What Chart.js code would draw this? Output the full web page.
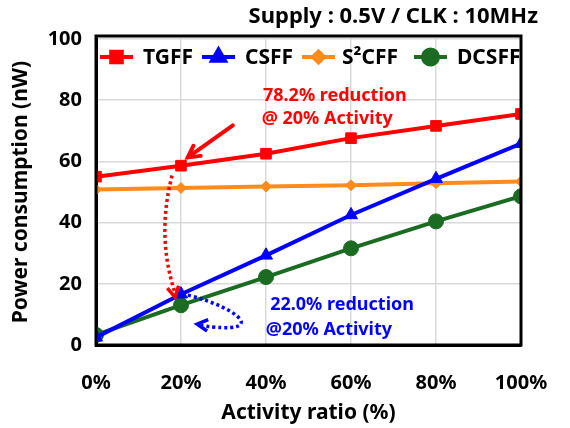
<!DOCTYPE html>
<html>
<head>
<meta charset="utf-8">
<script src="https://cdn.jsdelivr.net/npm/chart.js@4.4.1/dist/chart.umd.min.js"></script>
<style>
  html, body { margin: 0; padding: 0; background: #fff; }
  #wrap { width: 570px; height: 428px; }
</style>
</head>
<body>
<div id="wrap"><canvas id="c" width="570" height="428"></canvas></div>
<script>
const FONT = '"Noto Sans", "DejaVu Sans", sans-serif';

// Data.
const activity = [0, 20, 40, 60, 80, 100];
const tgff  = [55.0, 58.6, 62.5, 67.6, 71.6, 75.5];
const csff  = [2.5, 16.6, 29.3, 42.5, 54.3, 65.8];
const s2cff = [50.8, 51.3, 51.8, 52.2, 52.9, 53.4];
const dcsff = [3.3, 13.0, 22.2, 31.6, 40.4, 48.6];
const yTicks = [0, 20, 40, 60, 80, 100];

const series = [
  { label: 'TGFF',  data: tgff,  color: '#FF0000', style: 'rect',     r: 7.5 },
  { label: 'CSFF',  data: csff,  color: '#0000FF', style: 'triangle', r: 7.5 },
  { label: 'S²CFF', data: s2cff, color: '#FF8C1A', style: 'rectRot',  r: 5.5 },
  { label: 'DCSFF', data: dcsff, color: '#1B6B23', style: 'circle',   r: 7.5 },
];

// Annotation anchors in data coordinates (x = activity %, y = nW).
const redNote  = { lines: ['78.2% reduction', '@ 20% Activity'], x: [56.2, 54.4], y: [81.4, 73.9] };
const blueNote = { lines: ['22.0% reduction', '@20% Activity'], x: [57.9, 54.8], y: [13.0, 4.9] };

function arrowHead(ctx, x, y, ang, len) {
  ctx.beginPath();
  ctx.moveTo(x + len * Math.cos(ang + 0.5), y + len * Math.sin(ang + 0.5));
  ctx.lineTo(x, y);
  ctx.lineTo(x + len * Math.cos(ang - 0.5), y + len * Math.sin(ang - 0.5));
  ctx.stroke();
}

const decor = {
  id: 'decor',
  afterDatasetsDraw(chart) {
    const { ctx, chartArea: a, scales: { x, y } } = chart;
    const px = v => x.getPixelForValue(v), py = v => y.getPixelForValue(v);
    ctx.save();

    // frame
    ctx.strokeStyle = '#000'; ctx.lineWidth = 3;
    ctx.strokeRect(a.left, a.top - 3, a.right - a.left, a.bottom - a.top + 3);

    // legend inside plot
    ctx.save();
    ctx.beginPath(); ctx.rect(a.left, a.top - 3, a.right - a.left - 1, a.bottom - a.top); ctx.clip();
    const lx = [100, 202, 302, 414];
    const ly = 57;
    ctx.font = 'bold 21px ' + FONT; ctx.textBaseline = 'middle'; ctx.textAlign = 'left';
    series.forEach((s, i) => {
      ctx.strokeStyle = s.color; ctx.fillStyle = s.color; ctx.lineWidth = 4;
      ctx.beginPath(); ctx.moveTo(lx[i], ly); ctx.lineTo(lx[i] + 33, ly); ctx.stroke();
      Chart.helpers.drawPoint(ctx, { pointStyle: s.style, radius: s.r, borderWidth: 1 }, lx[i] + 16.5, ly);
      ctx.fillStyle = '#000';
      ctx.fillText(s.label, lx[i] + (i === 2 ? 40 : 43), ly + 1);
    });
    ctx.restore();

    // annotation text
    ctx.font = 'bold 18px ' + FONT; ctx.textAlign = 'center'; ctx.textBaseline = 'middle';
    ctx.fillStyle = '#FF0000';
    redNote.lines.forEach((t, i) => ctx.fillText(t, px(redNote.x[i]), py(redNote.y[i])));
    ctx.fillStyle = '#0000FF';
    blueNote.lines.forEach((t, i) => ctx.fillText(t, px(blueNote.x[i]), py(blueNote.y[i])));

    // red solid arrow
    ctx.strokeStyle = '#FF0000'; ctx.lineWidth = 4; ctx.lineCap = 'round';
    let sx = px(32.2), sy = py(71.8), ex = px(21.6), ey = py(61.3);
    ctx.beginPath(); ctx.moveTo(sx, sy); ctx.lineTo(ex, ey); ctx.stroke();
    arrowHead(ctx, ex, ey, Math.atan2(sy - ey, sx - ex), 13);

    // red dotted curved arrow
    ctx.lineCap = 'butt'; ctx.setLineDash([3, 3]); ctx.lineWidth = 3.5;
    ctx.beginPath(); ctx.moveTo(px(17.9), py(55.4));
    ctx.quadraticCurveTo(px(14.2), py(35.5), px(18.6), py(17)); ctx.stroke();
    ctx.setLineDash([]);
    arrowHead(ctx, px(18.6), py(15.6), -Math.PI / 2 - 0.2, 12);

    // blue dotted curved arrow
    ctx.strokeStyle = '#0000FF'; ctx.setLineDash([3, 3]); ctx.lineWidth = 3.5;
    ctx.beginPath(); ctx.moveTo(px(21.6), py(16.3));
    ctx.bezierCurveTo(px(34), py(12), px(41), py(3), px(24.5), py(6.4)); ctx.stroke();
    ctx.setLineDash([]);
    arrowHead(ctx, px(23.8), py(6.8), 0.1, 12);

    // header
    ctx.fillStyle = '#000'; ctx.font = 'bold 22px ' + FONT; ctx.textAlign = 'right';
    ctx.fillText('Supply : 0.5V / CLK : 10MHz', 538, 17);
    ctx.restore();
  }
};

new Chart(document.getElementById('c'), {
  type: 'line',
  data: {
    datasets: series.map(s => ({
      label: s.label,
      data: activity.map((a, i) => ({ x: a, y: s.data[i] })),
      borderColor: s.color, backgroundColor: s.color,
      borderWidth: 4, pointStyle: s.style, pointRadius: s.r, pointBorderWidth: 1,
      tension: 0,
    })),
  },
  options: {
    responsive: false, animation: false,
    layout: { padding: { top: 39, right: 49, left: 0, bottom: 0 } },
    plugins: { legend: { display: false }, tooltip: { enabled: false } },
    scales: {
      x: {
        type: 'linear', min: 0, max: 100,
        afterBuildTicks: ax => { ax.ticks = activity.map(v => ({ value: v })); },
        afterFit: ax => { ax.height = 83; ax.paddingLeft = 0; ax.paddingRight = 0; },
        grid: { color: '#D9D9D9', lineWidth: 1.5, drawTicks: false },
        border: { color: '#000', width: 3 },
        ticks: { padding: 26, color: '#000', font: { family: FONT, size: 20, weight: 'bold' }, callback: v => v + '%' },
        title: { display: true, text: 'Activity ratio (%)', color: '#000', padding: { top: 0, bottom: 2 }, font: { family: FONT, size: 21, weight: 'bold' } },
      },
      y: {
        min: 0, max: 100,
        afterBuildTicks: ax => { ax.ticks = yTicks.map(v => ({ value: v })); },
        afterFit: ax => { ax.width = 96; ax.paddingTop = 0; ax.paddingBottom = 0; },
        grid: { color: '#D9D9D9', lineWidth: 1.5, drawTicks: false },
        border: { color: '#000', width: 3 },
        ticks: { padding: 14, color: '#000', font: { family: FONT, size: 20, weight: 'bold' } },
        title: { display: true, text: 'Power consumption (nW)', color: '#000', padding: { top: 8, bottom: 0 }, font: { family: FONT, size: 21, weight: 'bold' } },
      },
    },
  },
  plugins: [decor],
});
</script>
</body>
</html>
